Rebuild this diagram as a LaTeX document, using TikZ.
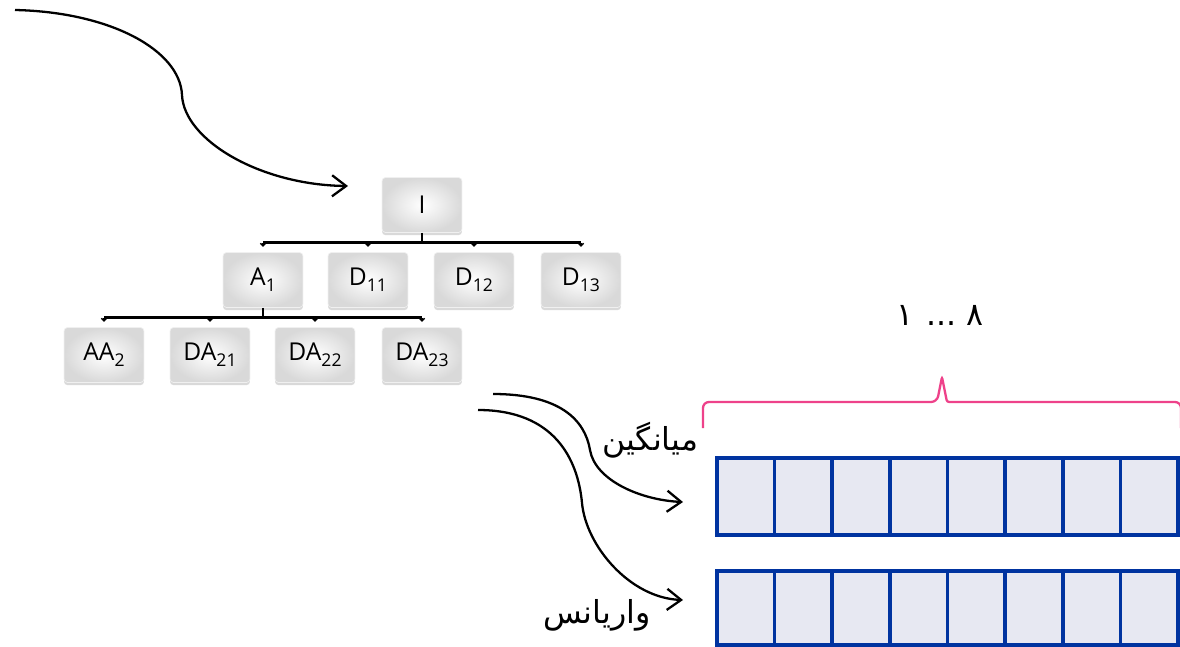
\documentclass[tikz,border=0pt]{standalone}
\usepackage{fontspec}
\newfontfamily\boxfont{Open Sans}
\newfontfamily\farsi[Script=Arabic]{DejaVu Sans}
\TeXXeTstate=1
\usetikzlibrary{arrows.meta,shadows}
\definecolor{cellblue}{RGB}{0,51,160}
\definecolor{cellfill}{RGB}{231,232,242}
\definecolor{bracepink}{RGB}{238,66,138}
\providecommand{\idx}[1]{\raisebox{-.45ex}{\fontsize{10}{10}\selectfont #1}}

\tikzset{
  box/.style={rounded corners=2pt, minimum width=1.6cm, minimum height=1.1cm,
    inner color=white, outer color=black!15, draw=black!6,
    drop shadow={shadow xshift=0pt, shadow yshift=-1.5pt, opacity=.3},
    font=\boxfont\fontsize{14}{16}\selectfont},
  bar/.style={line width=1.7pt},
  drop/.style={line width=.8pt, shorten >=3pt, -{Straight Barb[length=1.5pt,width=3pt]}},
  flow/.style={line width=1.3pt, -{Straight Barb[length=8pt,width=12pt]}},
  cell/.style={draw=cellblue, fill=cellfill, line width=2.1pt},
  lbl/.style={font=\farsi\fontsize{18}{22}\selectfont, inner sep=0pt}
}

\begin{document}
\begin{tikzpicture}[x=0.02cm, y=-0.02cm]
    \pgfmathsetmacro{\cellw}{57.625}
    \pgfmathsetmacro{\rowleft}{717}
    \useasboundingbox (0,0) rectangle (1180,646);

    % decomposition tree
    \node[box] (I) at (422,205) {I};
    \node[box] (A1) at (263,280) {A\idx{1}};
    \node[box] (D11) at (368,280) {D\idx{11}};
    \node[box] (D12) at (474,280) {D\idx{12}};
    \node[box] (D13) at (581,280) {D\idx{13}};
    \node[box] (AA2) at (104,355) {AA\idx{2}};
    \node[box] (DA21) at (210,355) {DA\idx{21}};
    \node[box] (DA22) at (315,355) {DA\idx{22}};
    \node[box] (DA23) at (422,355) {DA\idx{23}};

    \draw[bar] (I.south) -- ++(0,10) coordinate (j1);
    \draw[bar] (A1.north |- j1) -- (D13.north |- j1);
    \foreach \c in {A1,D11,D12,D13}
        \draw[drop] (\c.north |- j1) -- (\c.north);
    \draw[bar] (A1.south) -- ++(0,10) coordinate (j2);
    \draw[bar] (AA2.north |- j2) -- (DA23.north |- j2);
    \foreach \c in {AA2,DA21,DA22,DA23}
        \draw[drop] (\c.north |- j2) -- (\c.north);

    % incoming signal
    \coordinate (feed) at (15,10);
    \coordinate (toI) at (348,186);
    \draw[flow] (feed) .. controls (110,12) and (180,50) .. (182,95)
        .. controls (184,140) and (260,185) .. (toI);

    % feature rows
    \foreach \i in {0,...,7} {
        \draw[cell] (\rowleft+\i*\cellw,458) rectangle ++(\cellw,77);
        \draw[cell] (\rowleft+\i*\cellw,571) rectangle ++(\cellw,74);
    }
    \draw[bracepink, line width=1.3pt, rounded corners=3.4pt]
        (703,428) -- (703,402) -- (937,402) [rounded corners=1.2pt] -- (942,377)
        -- (947,402) [rounded corners=3.4pt] -- (1181,402) -- (1181,428);
    \node[lbl] (range) at (940,315) {\beginR ۸ ... ۱\endR};

    \coordinate (meanfrom) at (493,394);
    \coordinate (meanin) at (683,502);
    \coordinate (varfrom) at (478,410);
    \coordinate (varin) at (683,600);
    \draw[flow] (meanfrom) .. controls (560,394) and (585,420) .. (590,450)
        .. controls (595,480) and (640,500) .. (meanin);
    \draw[flow] (varfrom) .. controls (555,410) and (578,460) .. (582,503)
        .. controls (586,546) and (630,598) .. (varin);
    \node[lbl] (meanlbl) at (650,440) {\beginR میانگین\endR};
    \node[lbl] (varlbl) at (597,615) {\beginR واریانس\endR};
\end{tikzpicture}
\end{document}
